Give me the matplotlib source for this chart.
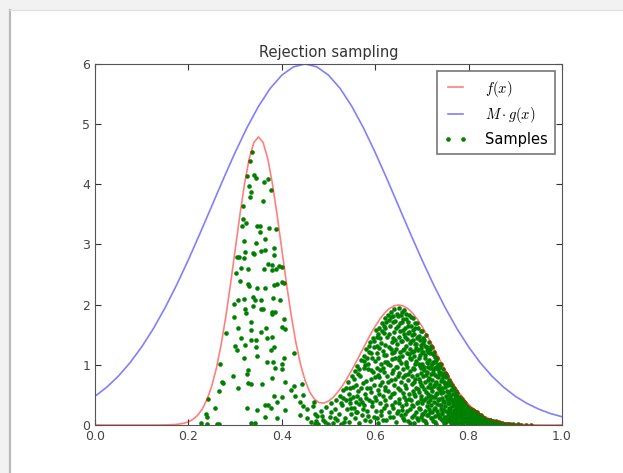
import numpy as np
import matplotlib
matplotlib.use('Agg')
import matplotlib.pyplot as plt
from matplotlib.patches import Rectangle
from matplotlib.lines import Line2D

###############################################################################
# DATA
###############################################################################
# target density f(x)
f_x = [0.00, 0.05, 0.10, 0.12, 0.13, 0.14, 0.15, 0.16, 0.17, 0.18, 0.19,
       0.20, 0.21, 0.22, 0.23, 0.24, 0.25, 0.26, 0.27, 0.28, 0.29,
       0.30, 0.31, 0.32, 0.33, 0.34, 0.35, 0.36, 0.37, 0.38, 0.39,
       0.40, 0.41, 0.42, 0.43, 0.44, 0.45, 0.46, 0.47, 0.48, 0.49,
       0.50, 0.51, 0.52, 0.53, 0.54, 0.55, 0.56, 0.57, 0.58, 0.59,
       0.60, 0.61, 0.62, 0.63, 0.64, 0.65, 0.66, 0.67, 0.68, 0.69,
       0.70, 0.71, 0.72, 0.73, 0.74, 0.75, 0.76, 0.77, 0.78, 0.79,
       0.80, 0.81, 0.82, 0.83, 0.84, 0.85, 0.86, 0.87, 0.88, 0.89,
       0.90, 0.92, 0.94, 0.96, 0.98, 1.00]
f_y = [0.000, 0.000, 0.000, 0.000, 0.000, 0.001, 0.002, 0.004, 0.007, 0.015, 0.029,
       0.053, 0.095, 0.163, 0.269, 0.426, 0.648, 0.947, 1.331, 1.797, 2.330,
       2.904, 3.477, 3.999, 4.420, 4.694, 4.789, 4.695, 4.424, 4.005, 3.487,
       2.919, 2.352, 1.829, 1.377, 1.011, 0.736, 0.545, 0.427, 0.372, 0.365,
       0.397, 0.460, 0.548, 0.655, 0.779, 0.915, 1.060, 1.210, 1.360, 1.506,
       1.641, 1.760, 1.859, 1.933, 1.979, 1.995, 1.979, 1.933, 1.859, 1.760,
       1.641, 1.506, 1.360, 1.210, 1.059, 0.913, 0.775, 0.648, 0.533, 0.431,
       0.344, 0.270, 0.209, 0.159, 0.119, 0.088, 0.064, 0.046, 0.032, 0.022,
       0.015, 0.007, 0.003, 0.001, 0.000, 0.000]

# scaled proposal M*g(x)
g_x = [0.000, 0.025, 0.050, 0.075, 0.100, 0.125, 0.150, 0.175, 0.200, 0.225,
       0.250, 0.275, 0.300, 0.325, 0.350, 0.375, 0.400, 0.425, 0.450, 0.475,
       0.500, 0.525, 0.550, 0.575, 0.600, 0.625, 0.650, 0.675, 0.700, 0.725,
       0.750, 0.775, 0.800, 0.825, 0.850, 0.875, 0.900, 0.925, 0.950, 0.975, 1.000]
g_y = [0.477, 0.628, 0.812, 1.035, 1.298, 1.602, 1.948, 2.331, 2.747, 3.187,
       3.639, 4.092, 4.529, 4.936, 5.295, 5.593, 5.815, 5.953, 6.000, 5.953,
       5.815, 5.593, 5.295, 4.936, 4.529, 4.092, 3.639, 3.187, 2.747, 2.331,
       1.948, 1.602, 1.298, 1.035, 0.812, 0.628, 0.477, 0.358, 0.264, 0.191, 0.137]

# accepted samples under the first peak
samples_left = [
    (0.337, 4.54), (0.332, 4.38), (0.325, 4.14), (0.341, 4.15), (0.345, 4.11),
    (0.362, 4.04), (0.371, 4.09), (0.330, 3.97), (0.334, 3.88), (0.332, 3.79),
    (0.376, 3.91), (0.359, 3.72), (0.317, 3.64), (0.316, 3.42), (0.324, 3.36),
    (0.315, 3.31), (0.346, 3.31), (0.353, 3.31), (0.373, 3.28), (0.388, 3.25),
    (0.354, 3.20), (0.363, 3.09), (0.320, 3.05), (0.345, 3.02), (0.304, 2.80),
    (0.309, 2.79), (0.318, 2.78), (0.321, 2.88), (0.338, 2.86), (0.341, 2.84),
    (0.355, 2.90), (0.363, 2.91), (0.384, 2.94), (0.383, 2.83), (0.371, 2.68),
    (0.380, 2.66), (0.394, 2.64), (0.400, 2.63), (0.313, 2.61), (0.328, 2.59),
    (0.362, 2.59), (0.378, 2.58), (0.388, 2.59), (0.301, 2.53), (0.310, 2.40),
    (0.327, 2.34), (0.330, 2.31), (0.346, 2.27), (0.364, 2.27), (0.383, 2.32),
    (0.389, 2.34), (0.401, 2.37), (0.405, 2.36),
    (0.307, 2.08), (0.318, 2.09), (0.339, 2.13), (0.343, 2.08), (0.355, 2.08),
    (0.382, 2.11), (0.396, 2.08), (0.298, 2.01), (0.321, 1.93), (0.339, 1.98),
    (0.355, 1.93), (0.360, 1.93), (0.380, 1.87), (0.385, 1.88), (0.297, 1.79),
    (0.323, 1.86), (0.335, 1.72), (0.380, 1.84), (0.404, 1.76), (0.281, 1.53),
    (0.307, 1.62), (0.333, 1.58), (0.355, 1.55), (0.366, 1.62), (0.400, 1.63),
    (0.407, 1.60), (0.313, 1.44), (0.335, 1.41), (0.344, 1.42), (0.368, 1.45),
    (0.380, 1.47), (0.300, 1.32), (0.303, 1.25), (0.321, 1.33), (0.344, 1.30),
    (0.384, 1.30), (0.377, 1.25), (0.320, 1.11), (0.346, 1.15), (0.368, 1.05),
    (0.382, 1.05), (0.400, 1.02), (0.404, 1.11), (0.426, 1.19), (0.267, 1.01),
    (0.328, 0.91), (0.385, 0.94), (0.401, 0.93), (0.296, 0.81), (0.325, 0.84),
    (0.272, 0.72), (0.275, 0.69), (0.328, 0.69), (0.335, 0.68), (0.358, 0.68),
    (0.380, 0.78), (0.407, 0.72), (0.427, 0.64), (0.443, 0.68), (0.266, 0.57),
    (0.307, 0.61), (0.384, 0.48), (0.400, 0.47), (0.420, 0.58), (0.428, 0.48),
    (0.446, 0.50), (0.242, 0.43), (0.257, 0.29), (0.325, 0.29), (0.346, 0.25),
    (0.364, 0.34), (0.371, 0.34), (0.377, 0.29), (0.389, 0.39), (0.407, 0.25),
    (0.439, 0.38), (0.453, 0.27), (0.446, 0.32), (0.238, 0.19), (0.240, 0.14),
    (0.364, 0.14), (0.389, 0.11), (0.439, 0.17), (0.475, 0.15), (0.473, 0.07),
    (0.226, 0.03), (0.239, 0.01), (0.261, 0.02), (0.266, 0.01), (0.335, 0.03),
    (0.343, 0.03), (0.471, 0.01),
]

# accepted samples under the second peak
samples_right = [
    (0.462, 0.05), (0.466, 0.31), (0.471, 0.18), (0.477, 0.02),
    (0.483, 0.24), (0.488, 0.09), (0.494, 0.30), (0.498, 0.01),
    (0.503, 0.14), (0.506, 0.36), (0.509, 0.03), (0.513, 0.27), (0.517, 0.41), (0.519, 0.08),
    (0.522, 0.19), (0.524, 0.48), (0.527, 0.02), (0.529, 0.33), (0.532, 0.58), (0.535, 0.11),
    (0.537, 0.42), (0.539, 0.26),
    (0.541, 0.71), (0.543, 0.05), (0.545, 0.37), (0.547, 0.62), (0.549, 0.18), (0.551, 0.82),
    (0.552, 0.47), (0.554, 0.29), (0.556, 0.90), (0.557, 0.12), (0.558, 0.66), (0.559, 0.39),
    (0.561, 0.98), (0.562, 0.22), (0.564, 0.57), (0.565, 0.03), (0.567, 0.81), (0.568, 0.44),
    (0.570, 1.08), (0.572, 0.16), (0.573, 0.69), (0.575, 0.95), (0.576, 0.34), (0.577, 1.14),
    (0.578, 0.52), (0.579, 0.08),
    (0.581, 1.27), (0.582, 0.61), (0.583, 0.24), (0.584, 0.93), (0.585, 1.02), (0.586, 0.41),
    (0.588, 0.07), (0.589, 1.38), (0.590, 0.76), (0.591, 0.55), (0.592, 1.19), (0.593, 0.31),
    (0.595, 0.88), (0.596, 1.45), (0.597, 0.13), (0.598, 0.67), (0.599, 1.07), (0.600, 0.46),
    (0.601, 1.58), (0.602, 0.23), (0.603, 0.94), (0.604, 1.31), (0.605, 0.58), (0.606, 1.12),
    (0.607, 0.04), (0.608, 1.62), (0.609, 0.79), (0.610, 0.36), (0.611, 1.44), (0.612, 1.01),
    (0.613, 0.17), (0.614, 0.71), (0.615, 1.69), (0.616, 1.23), (0.617, 0.49), (0.618, 0.88),
    (0.619, 1.53), (0.619, 0.28), (0.620, 1.05), (0.620, 0.63),
    (0.621, 1.78), (0.622, 0.41), (0.623, 1.16), (0.624, 0.09), (0.625, 1.47), (0.626, 0.82),
    (0.627, 1.83), (0.628, 0.57), (0.629, 1.29), (0.630, 0.21), (0.631, 0.99), (0.632, 1.64),
    (0.633, 0.74), (0.634, 1.88), (0.635, 0.33), (0.636, 1.38), (0.637, 1.09), (0.637, 0.52),
    (0.638, 1.72), (0.639, 0.14), (0.639, 0.91), (0.640, 1.55), (0.640, 0.66), (0.640, 1.21),
    (0.641, 1.93), (0.642, 0.38), (0.643, 1.12), (0.643, 0.77), (0.644, 1.61), (0.645, 0.05),
    (0.646, 1.34), (0.647, 0.96), (0.648, 1.81), (0.648, 0.24), (0.649, 0.61), (0.650, 1.47),
    (0.651, 1.95), (0.652, 0.86), (0.652, 0.43), (0.653, 1.22), (0.654, 1.69), (0.655, 0.16),
    (0.656, 1.03), (0.656, 0.71), (0.657, 1.88), (0.658, 0.31), (0.658, 1.39), (0.659, 0.54),
    (0.659, 1.58), (0.660, 0.93), (0.660, 1.76), (0.660, 0.11),
    (0.661, 1.91), (0.661, 0.47), (0.662, 1.27), (0.663, 0.83), (0.664, 0.19), (0.664, 1.62),
    (0.665, 1.05), (0.666, 0.62), (0.667, 1.84), (0.667, 0.35), (0.668, 1.43), (0.669, 0.97),
    (0.670, 0.07), (0.670, 1.71), (0.671, 0.74), (0.672, 1.18), (0.672, 0.52), (0.673, 1.55),
    (0.674, 0.26), (0.674, 1.36), (0.675, 0.89), (0.676, 1.79), (0.676, 0.41), (0.677, 1.09),
    (0.678, 0.68), (0.678, 1.49), (0.679, 0.14), (0.679, 1.22), (0.680, 0.95), (0.680, 0.57),
    (0.681, 1.78), (0.681, 0.32), (0.682, 1.15), (0.682, 0.71), (0.683, 1.52), (0.684, 0.04),
    (0.684, 0.93), (0.685, 1.34), (0.686, 0.48), (0.686, 1.69), (0.687, 0.21), (0.688, 1.06),
    (0.688, 0.62), (0.689, 1.44), (0.690, 0.83), (0.690, 0.12), (0.691, 1.61), (0.692, 0.39),
    (0.692, 1.25), (0.693, 0.77), (0.694, 0.55), (0.694, 1.48), (0.695, 0.98), (0.696, 0.27),
    (0.696, 1.17), (0.697, 0.66), (0.698, 1.57), (0.698, 0.43), (0.699, 0.87), (0.699, 1.33),
    (0.700, 0.18), (0.700, 1.02),
    (0.701, 1.56), (0.701, 0.36), (0.702, 0.81), (0.703, 1.21), (0.703, 0.09), (0.704, 0.59),
    (0.705, 1.42), (0.705, 0.97), (0.706, 0.24), (0.707, 0.72), (0.707, 1.11), (0.708, 0.45),
    (0.709, 1.49), (0.709, 0.03), (0.710, 0.88), (0.711, 0.31), (0.711, 1.29), (0.712, 0.63),
    (0.713, 1.03), (0.713, 0.16), (0.714, 0.52), (0.715, 1.38), (0.715, 0.78), (0.716, 0.27),
    (0.717, 0.94), (0.717, 1.19), (0.718, 0.41), (0.718, 0.68), (0.719, 1.31), (0.719, 0.11),
    (0.720, 0.85), (0.720, 0.49),
    (0.721, 1.29), (0.721, 0.22), (0.722, 0.74), (0.722, 0.57), (0.723, 1.05), (0.724, 0.06),
    (0.724, 0.91), (0.725, 0.38), (0.726, 1.22), (0.726, 0.64), (0.727, 0.15), (0.727, 0.83),
    (0.728, 0.47), (0.729, 1.13), (0.729, 0.29), (0.730, 0.71), (0.731, 0.97), (0.731, 0.02),
    (0.732, 0.54), (0.733, 1.12), (0.733, 0.35), (0.734, 0.79), (0.735, 0.19), (0.735, 0.62),
    (0.736, 1.01), (0.737, 0.43), (0.737, 0.88), (0.738, 0.11), (0.738, 0.58), (0.739, 0.96),
    (0.740, 0.26), (0.740, 0.73),
    (0.741, 1.01), (0.741, 0.33), (0.742, 0.61), (0.742, 0.08), (0.743, 0.84), (0.744, 0.45),
    (0.744, 0.19), (0.745, 0.93), (0.746, 0.55), (0.746, 0.27), (0.747, 0.72), (0.748, 0.04),
    (0.748, 0.39), (0.749, 0.86), (0.750, 0.63), (0.750, 0.14), (0.751, 0.48), (0.752, 0.79),
    (0.752, 0.23), (0.753, 0.57), (0.754, 0.09), (0.754, 0.82), (0.755, 0.36), (0.756, 0.67),
    (0.756, 0.17), (0.757, 0.51), (0.758, 0.74), (0.758, 0.29), (0.759, 0.42), (0.760, 0.06),
    (0.761, 0.71), (0.761, 0.21), (0.762, 0.44), (0.762, 0.03), (0.763, 0.58), (0.764, 0.31),
    (0.764, 0.12), (0.765, 0.66), (0.766, 0.38), (0.766, 0.07), (0.767, 0.52), (0.768, 0.25),
    (0.768, 0.61), (0.769, 0.16), (0.770, 0.45), (0.770, 0.02), (0.771, 0.34), (0.772, 0.57),
    (0.772, 0.10), (0.773, 0.27), (0.774, 0.48), (0.774, 0.19), (0.775, 0.39), (0.776, 0.05),
    (0.776, 0.54), (0.777, 0.30), (0.778, 0.13), (0.779, 0.42),
    (0.781, 0.47), (0.781, 0.18), (0.782, 0.33), (0.782, 0.04), (0.783, 0.41), (0.784, 0.24),
    (0.784, 0.09), (0.785, 0.37), (0.786, 0.14), (0.786, 0.44), (0.787, 0.28), (0.788, 0.02),
    (0.788, 0.35), (0.789, 0.19), (0.790, 0.39), (0.791, 0.07), (0.791, 0.30), (0.792, 0.22),
    (0.793, 0.36), (0.794, 0.11), (0.795, 0.27), (0.796, 0.04), (0.797, 0.32), (0.799, 0.16),
    (0.801, 0.29), (0.801, 0.08), (0.802, 0.19), (0.803, 0.03), (0.804, 0.25), (0.805, 0.13),
    (0.806, 0.27), (0.807, 0.06), (0.808, 0.21), (0.809, 0.15), (0.810, 0.01), (0.811, 0.24),
    (0.812, 0.10), (0.813, 0.18), (0.814, 0.04), (0.815, 0.22), (0.816, 0.12), (0.817, 0.07),
    (0.818, 0.17), (0.819, 0.02),
    (0.821, 0.18), (0.822, 0.06), (0.823, 0.13), (0.825, 0.02), (0.826, 0.16), (0.827, 0.09),
    (0.829, 0.04), (0.830, 0.12), (0.832, 0.07), (0.833, 0.12), (0.835, 0.03), (0.836, 0.10),
    (0.838, 0.05), (0.839, 0.08),
    (0.841, 0.09), (0.842, 0.03), (0.844, 0.06), (0.846, 0.08), (0.848, 0.01), (0.850, 0.05),
    (0.853, 0.07), (0.855, 0.02), (0.857, 0.04), (0.859, 0.06),
    (0.861, 0.04), (0.863, 0.02), (0.866, 0.05), (0.869, 0.01), (0.872, 0.03), (0.875, 0.02),
    (0.878, 0.01), (0.882, 0.02), (0.885, 0.01), (0.889, 0.015), (0.894, 0.01), (0.898, 0.005),
    (0.905, 0.01), (0.913, 0.005), (0.922, 0.004), (0.934, 0.002),
]

# more samples where the second peak is densest
samples_dense = [
    (0.455, 0.12), (0.468, 0.38), (0.485, 0.15), (0.492, 0.05), (0.505, 0.22),
    (0.514, 0.11), (0.526, 0.36), (0.533, 0.05), (0.544, 0.52), (0.548, 0.29),
    (0.553, 0.63), (0.558, 0.21), (0.563, 0.84), (0.566, 0.35), (0.569, 0.61),
    (0.574, 0.27), (0.578, 0.99), (0.581, 0.45), (0.584, 0.15), (0.587, 1.21),
    (0.589, 0.62), (0.592, 0.92), (0.594, 0.38), (0.597, 1.29), (0.599, 0.79),
    (0.601, 0.41), (0.603, 1.47), (0.604, 0.12), (0.606, 0.83), (0.608, 0.52),
    (0.609, 1.28), (0.611, 0.66), (0.612, 0.24), (0.614, 1.57), (0.616, 0.95),
    (0.617, 0.08), (0.619, 1.17), (0.621, 0.58), (0.622, 1.62), (0.624, 0.33),
    (0.626, 1.05), (0.627, 0.72), (0.629, 1.74), (0.631, 0.46), (0.632, 0.13),
    (0.634, 1.27), (0.636, 0.86), (0.638, 0.29), (0.639, 1.81), (0.641, 0.53),
    (0.643, 1.42), (0.645, 0.97), (0.646, 0.20), (0.648, 1.64), (0.649, 0.81),
    (0.651, 0.37), (0.652, 1.08), (0.654, 0.58), (0.655, 1.83), (0.657, 0.25),
    (0.658, 1.15), (0.659, 0.79), (0.661, 1.52), (0.662, 0.09), (0.663, 0.66),
    (0.665, 1.31), (0.666, 0.42), (0.667, 1.01), (0.669, 0.23), (0.670, 1.64),
    (0.671, 0.85), (0.673, 0.44), (0.674, 1.11), (0.675, 0.04), (0.677, 1.39),
    (0.678, 0.33), (0.679, 0.82), (0.681, 1.58), (0.682, 0.51), (0.683, 0.17),
    (0.685, 1.02), (0.686, 0.76), (0.687, 1.28), (0.689, 0.36), (0.690, 1.69),
    (0.691, 0.59), (0.692, 0.08), (0.693, 1.12), (0.694, 0.29), (0.695, 0.71),
    (0.696, 1.41), (0.697, 0.49), (0.698, 0.95), (0.699, 0.13), (0.700, 1.22),
    (0.701, 0.64), (0.702, 0.19), (0.703, 1.37), (0.704, 0.92), (0.705, 0.42),
    (0.706, 1.16), (0.707, 0.06), (0.708, 0.83), (0.709, 0.55), (0.710, 1.24),
    (0.711, 0.17), (0.712, 0.97), (0.713, 0.38), (0.714, 0.74), (0.715, 1.08),
    (0.716, 0.49), (0.717, 0.21), (0.718, 1.27), (0.719, 0.61), (0.720, 0.33),
    (0.721, 1.02), (0.722, 0.12), (0.723, 0.86), (0.724, 0.46), (0.725, 1.17),
    (0.726, 0.27), (0.727, 0.68), (0.728, 0.95), (0.729, 0.05), (0.730, 0.52),
    (0.731, 1.08), (0.732, 0.24), (0.733, 0.81), (0.734, 0.41), (0.735, 0.99),
    (0.736, 0.14), (0.737, 0.66), (0.738, 0.34), (0.739, 0.84), (0.741, 0.53),
    (0.742, 0.22), (0.744, 0.76), (0.745, 0.40), (0.747, 0.11), (0.749, 0.68),
    (0.750, 0.31), (0.751, 0.85), (0.752, 0.05), (0.753, 0.44), (0.754, 0.70),
    (0.755, 0.21), (0.756, 0.55), (0.757, 0.12), (0.758, 0.37), (0.759, 0.72),
    (0.760, 0.26), (0.761, 0.49), (0.762, 0.15), (0.763, 0.66), (0.764, 0.03),
    (0.765, 0.41), (0.766, 0.59), (0.767, 0.20), (0.768, 0.34), (0.769, 0.08),
    (0.770, 0.53), (0.771, 0.24), (0.772, 0.42), (0.773, 0.14), (0.774, 0.52),
    (0.775, 0.32), (0.776, 0.09), (0.777, 0.46), (0.778, 0.21), (0.779, 0.36),
    (0.780, 0.03), (0.781, 0.27), (0.782, 0.44), (0.783, 0.13), (0.785, 0.31),
    (0.786, 0.06), (0.787, 0.40), (0.788, 0.23), (0.790, 0.12), (0.791, 0.35),
    (0.793, 0.18), (0.794, 0.29), (0.796, 0.09), (0.797, 0.24), (0.799, 0.29),
    (0.800, 0.14), (0.802, 0.26), (0.803, 0.07), (0.805, 0.20), (0.806, 0.02),
    (0.808, 0.12), (0.809, 0.25), (0.811, 0.05), (0.812, 0.18), (0.814, 0.09),
    (0.815, 0.14), (0.817, 0.21), (0.818, 0.03), (0.820, 0.11), (0.821, 0.07),
    (0.823, 0.16), (0.824, 0.04), (0.826, 0.10), (0.828, 0.14), (0.829, 0.01),
    (0.831, 0.08), (0.833, 0.05), (0.834, 0.11), (0.836, 0.02), (0.838, 0.09),
    (0.840, 0.06), (0.843, 0.04), (0.845, 0.08), (0.847, 0.03), (0.850, 0.06),
    (0.852, 0.02), (0.856, 0.05), (0.860, 0.03), (0.865, 0.02), (0.870, 0.01),
    (0.586, 1.31), (0.594, 1.12), (0.598, 1.40), (0.603, 1.19), (0.607, 1.52),
    (0.611, 0.91), (0.613, 1.36), (0.618, 1.64), (0.621, 1.33), (0.624, 1.71),
    (0.627, 1.02), (0.630, 1.51), (0.633, 1.79), (0.635, 1.19), (0.638, 1.45),
    (0.642, 1.73), (0.644, 1.27), (0.647, 1.85), (0.650, 1.13), (0.653, 1.57),
    (0.655, 1.39), (0.657, 1.72), (0.660, 1.25), (0.663, 1.46), (0.665, 1.76),
    (0.668, 1.19), (0.671, 1.53), (0.673, 1.82), (0.675, 1.27), (0.677, 1.64),
    (0.680, 1.41), (0.683, 1.23), (0.685, 1.62), (0.688, 1.35), (0.691, 1.47),
    (0.693, 1.02), (0.697, 1.28), (0.702, 1.45), (0.706, 1.31), (0.710, 1.05),
    (0.714, 1.21), (0.719, 0.97), (0.723, 1.18), (0.728, 1.04), (0.734, 0.93),
    (0.740, 0.87), (0.746, 0.81), (0.531, 0.45), (0.538, 0.61), (0.546, 0.44),
    (0.555, 0.77), (0.560, 0.49), (0.566, 0.93), (0.571, 0.39), (0.575, 1.07),
    (0.580, 0.73), (0.583, 1.12),
]

x_ticks = [0.0, 0.2, 0.4, 0.6, 0.8, 1.0]
y_ticks = [0, 1, 2, 3, 4, 5, 6]

###############################################################################
# PLOT
###############################################################################
plt.rcParams['font.family'] = 'DejaVu Sans'
plt.rcParams['mathtext.fontset'] = 'cm'

fig = plt.figure(figsize=(6.23, 4.73), dpi=100, facecolor='white')

# screenshot frame around the figure
fig.add_artist(Rectangle((0, 0), 1, 1, transform=fig.transFigure,
                         facecolor='#f2f2f2', edgecolor='none', zorder=-3))
fig.add_artist(Rectangle((0.0165, 0), 1, 0.979, transform=fig.transFigure,
                         facecolor='white', edgecolor='none', zorder=-2))
fig.add_artist(Line2D([0.0165, 0.0165], [0, 0.979], transform=fig.transFigure,
                      color='#b8b8b8', lw=1.6, zorder=-1))
fig.add_artist(Line2D([0.0165, 1], [0.979, 0.979], transform=fig.transFigure,
                      color='#e2e2e2', lw=1.0, zorder=-1))

ax = fig.add_axes([0.1525, 0.1015, 0.7496, 0.7632])

samples = np.array(samples_left + samples_right + samples_dense)

# curves drawn above the dots, as in the reference
ax.plot(f_x, f_y, color='r', alpha=0.5, lw=1.2, label='$f(x)$', zorder=3)
ax.plot(g_x, g_y, color='b', alpha=0.5, lw=1.2, label=r'$M\cdot g(x)$', zorder=3)
ax.plot(samples[:, 0], samples[:, 1], 'o', color='g', ms=3.3, mec='none',
        label='Samples', zorder=2)

ax.set_xlim(0, 1)
ax.set_ylim(0, 6)
ax.set_xticks(x_ticks)
ax.set_yticks(y_ticks)
ax.tick_params(direction='in', top=True, right=True, labelsize=9, length=4,
               colors='#333333', labelcolor='#444444')
for s in ax.spines.values():
    s.set_color('#555555')
    s.set_zorder(4)
ax.set_title('Rejection sampling', fontsize=10.5, pad=5, color='#333333')

leg = ax.legend(loc='upper right', numpoints=2, fontsize=10.5, fancybox=False,
                borderaxespad=0.5, handlelength=1.6, handletextpad=1.2,
                labelspacing=0.45, borderpad=0.5)
leg.get_frame().set_edgecolor('#555555')
leg.get_frame().set_linewidth(1.2)
leg.set_zorder(5)

fig.savefig('out.png', dpi=100, facecolor=fig.get_facecolor())
